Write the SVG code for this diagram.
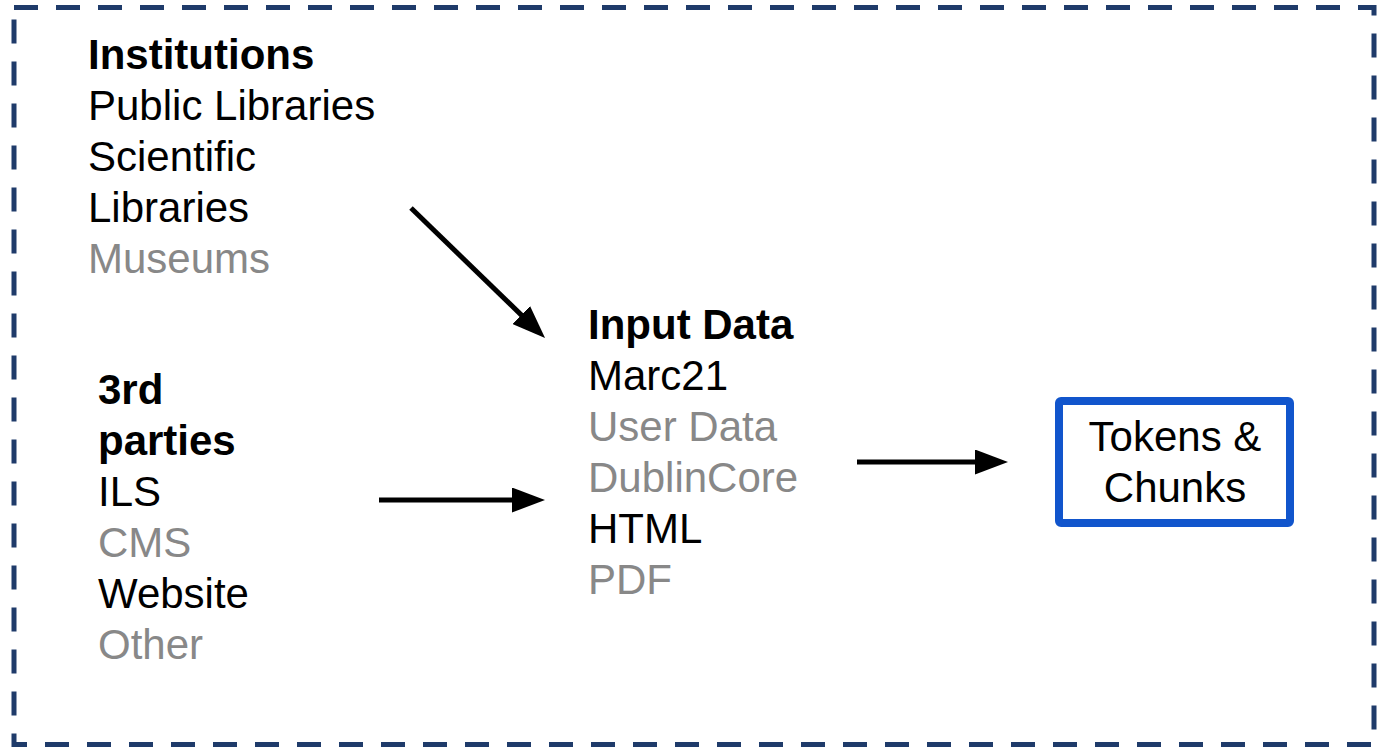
<svg xmlns="http://www.w3.org/2000/svg" width="1378" height="748" viewBox="0 0 1378 748">
<style>
  .t { font-family: "Liberation Sans", Arial, sans-serif; font-size: 42px; fill: #000; }
  .b { font-weight: bold; }
  .g { fill: #888888; }
  .conn { stroke: #000; stroke-width: 5; fill: none; marker-end: url(#ah); }
</style>
<defs>
  <marker id="ah" viewBox="0 0 33 25" refX="3" refY="12.5" markerWidth="33" markerHeight="25" markerUnits="userSpaceOnUse" orient="auto">
    <polygon points="0,0 33,12.5 0,25" fill="#000"/>
  </marker>
</defs>
<rect width="1378" height="748" fill="#fff"/>
<rect id="frame" x="14" y="7.5" width="1360" height="737" fill="none" stroke="#1f3b6a" stroke-width="5" stroke-dasharray="24 18"/>

<g id="institutions">
  <text class="t b" x="88" y="69">Institutions</text>
  <text class="t" x="88" y="120">Public Libraries</text>
  <text class="t" x="88" y="171">Scientific</text>
  <text class="t" x="88" y="222">Libraries</text>
  <text class="t g" x="88" y="273">Museums</text>
</g>

<g id="third-parties">
  <text class="t b" x="98" y="404">3rd</text>
  <text class="t b" x="98" y="455">parties</text>
  <text class="t" x="98" y="506">ILS</text>
  <text class="t g" x="98" y="557">CMS</text>
  <text class="t" x="98" y="608">Website</text>
  <text class="t g" x="98" y="659">Other</text>
</g>

<g id="input-data">
  <text class="t b" x="588" y="339">Input Data</text>
  <text class="t" x="588" y="390">Marc21</text>
  <text class="t g" x="588" y="441">User Data</text>
  <text class="t g" x="588" y="492">DublinCore</text>
  <text class="t" x="588" y="543">HTML</text>
  <text class="t g" x="588" y="594">PDF</text>
</g>

<g id="tokens-chunks">
  <rect x="1059" y="401" width="231" height="122" rx="2" fill="#fff" stroke="#1155cc" stroke-width="8"/>
  <text class="t" x="1175" y="451" text-anchor="middle">Tokens &amp;</text>
  <text class="t" x="1175" y="502" text-anchor="middle">Chunks</text>
</g>

<g id="connectors">
  <line class="conn" x1="411" y1="208" x2="523.5" y2="317.1"/>
  <line class="conn" x1="379" y1="500" x2="515" y2="500"/>
  <line class="conn" x1="857" y1="462" x2="978" y2="462"/>
</g>
</svg>
